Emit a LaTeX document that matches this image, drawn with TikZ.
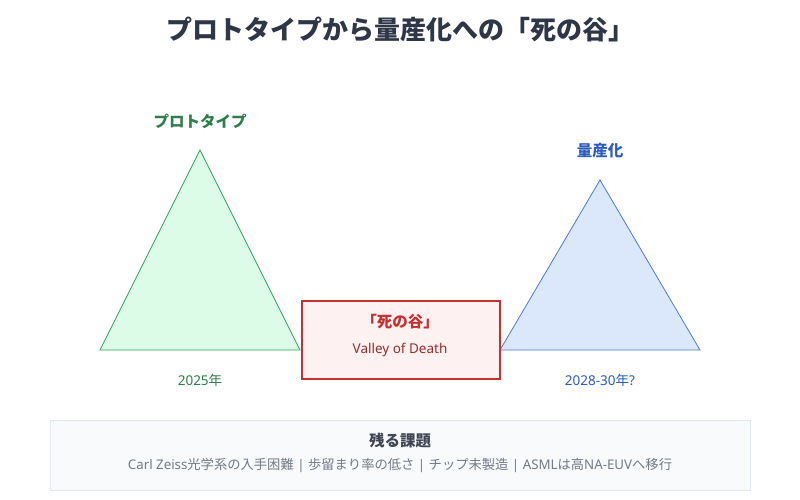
\documentclass[tikz,border=0pt]{standalone}
\usepackage{fontspec}
\setmainfont{Noto Sans CJK JP}
\newfontfamily\lat{Noto Sans}
\definecolor{titlec}{HTML}{2D3748}
\definecolor{greentxt}{HTML}{2F7D4A}
\definecolor{greenfill}{HTML}{DCFCE7}
\definecolor{greenline}{HTML}{2FA55A}
\definecolor{bluetxt}{HTML}{2B5CC0}
\definecolor{bluefill}{HTML}{DBE8FC}
\definecolor{blueline}{HTML}{4A7BD0}
\definecolor{redline}{HTML}{C53030}
\definecolor{redfill}{HTML}{FEF1F1}
\definecolor{redsub}{HTML}{9B2C2C}
\definecolor{panelfill}{HTML}{F8FAFC}
\definecolor{panelline}{HTML}{E2E8F0}
\definecolor{paneltitle}{HTML}{3F4553}
\definecolor{paneltext}{HTML}{737B87}
\tikzset{
  lbl/.style={inner sep=0pt, anchor=center},
  bigtitle/.style={lbl, font=\fontsize{26}{30}\selectfont\bfseries, text=titlec},
  headg/.style={lbl, font=\fontsize{15.5}{18}\selectfont\bfseries, text=greentxt},
  headb/.style={lbl, font=\fontsize{15.5}{18}\selectfont\bfseries, text=bluetxt},
  yearg/.style={lbl, font=\fontsize{13.5}{16}\selectfont, text=greentxt},
  yearb/.style={lbl, font=\fontsize{13.5}{16}\selectfont, text=bluetxt},
  tri/.style={line width=0.8pt, line join=miter},
}
\begin{document}
\begin{tikzpicture}[x=1pt,y=-1pt]
\useasboundingbox[fill=white] (0,0) rectangle (800,500);
\node[bigtitle] (title) at (400,30) {プロトタイプから量産化への「死の谷」};
% left triangle
\coordinate (la) at (200,150);
\coordinate (lb) at (100,350);
\coordinate (lc) at (300,350);
\draw[tri, draw=greenline, fill=greenfill] (la) -- (lc) -- (lb) -- cycle;
\node[headg] (proto) at (200,121) {プロトタイプ};
\node[yearg] (y1) at (200,380) {{\lat 2025}年};
% right triangle
\coordinate (ra) at (600,180);
\coordinate (rb) at (500,350);
\coordinate (rc) at (700,350);
\draw[tri, draw=blueline, fill=bluefill] (ra) -- (rc) -- (rb) -- cycle;
\node[headb] (mass) at (600,151) {量産化};
\node[yearb] (y2) at (600,380) {{\lat 2028-30}年{\lat ?}};
% valley box
\node[draw=redline, fill=redfill, line width=2pt, minimum width=198pt, minimum height=78pt, inner sep=0pt] (valley) at (400.5,340) {};
\node[lbl, font=\fontsize{15.5}{18}\selectfont\bfseries, text=redline] (vt) at (400,322) {「死の谷」};
\node[lbl, font=\fontsize{13.5}{16}\selectfont\lat, text=redsub] (vs) at (400,350) {Valley of Death};
% bottom panel
\node[draw=panelline, fill=panelfill, line width=1pt, minimum width=700pt, minimum height=70pt, inner sep=0pt] (panel) at (400,455) {};
\node[lbl, font=\fontsize{15.5}{18}\selectfont\bfseries, text=paneltitle] (pt) at (400,441) {残る課題};
\node[lbl, font=\fontsize{13.3}{16}\selectfont, text=paneltext] (ptext) at (400,465) {{\lat Carl Zeiss}光学系の入手困難{\lat\ | }歩留まり率の低さ{\lat\ | }チップ未製造{\lat\ | ASML}は高{\lat NA-EUV}へ移行};
\end{tikzpicture}
\end{document}
